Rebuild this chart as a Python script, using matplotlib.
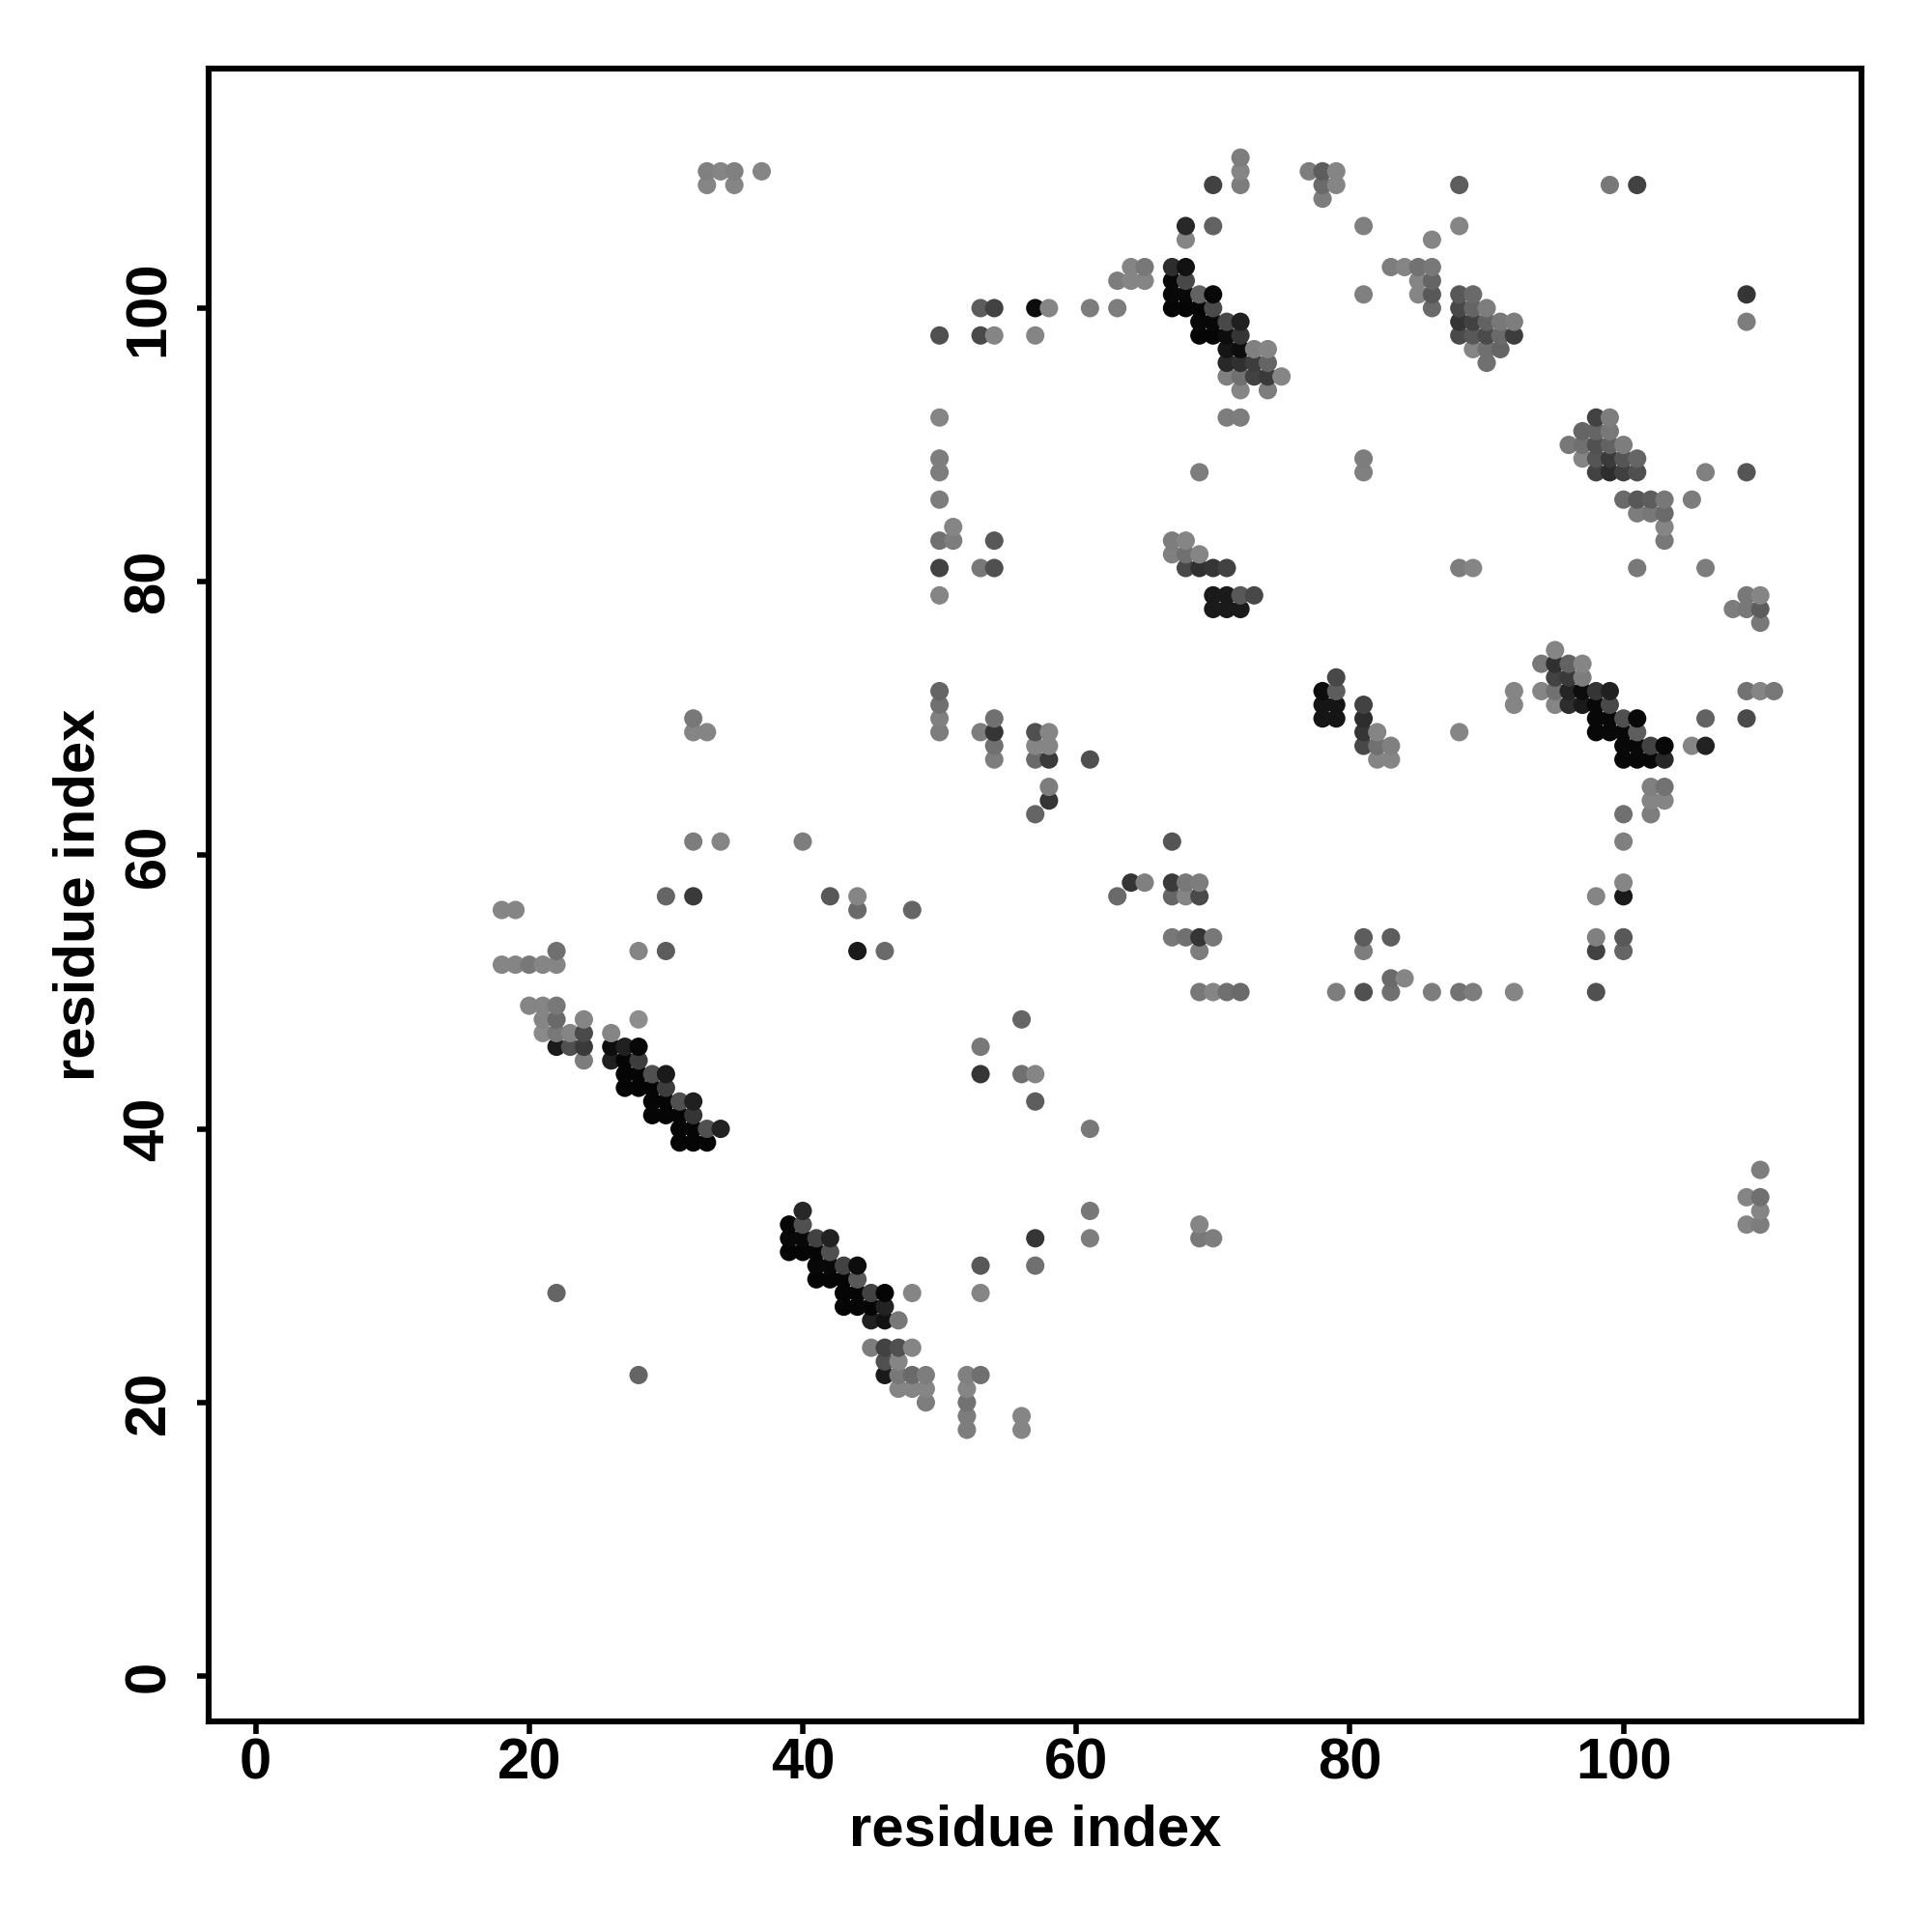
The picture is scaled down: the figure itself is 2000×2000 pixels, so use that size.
import numpy as np
import matplotlib
matplotlib.use("Agg")
import matplotlib.pyplot as plt

plt.rcParams["font.family"] = ["Liberation Sans", "DejaVu Sans"]

# contacts as (residue x, residue y, grey level)
top_left = [
    (33, 110, .48), (34, 110, .5), (35, 110, .48), (37, 110, .5), (33, 109, .5), (35, 109, .5),
    (72, 111, .47), (72, 110, .5), (72, 109, .47), (70, 109, .25),
    (77, 110, .47), (78, 110, .35), (79, 110, .5), (78, 109, .4), (79, 109, .5), (78, 108, .47),
    (88, 109, .35), (88, 106, .5), (99, 109, .45), (101, 109, .25),
    (68, 106, .15), (70, 106, .37), (81, 106, .48), (68, 105, .5), (86, 105, .5),
]
strand_67_100 = [
    (64, 103, .5), (65, 103, .45), (63, 102, .47), (64, 102, .5), (65, 102, .5),
    (67, 103, .17), (68, 103, .07), (67, 102, .03), (68, 102, .27),
    (67, 101, .03), (68, 101, .03), (69, 101, .37), (70, 101, .03),
    (67, 100, .02), (68, 100, .02), (69, 100, .02), (70, 100, .28),
    (69, 99, .03), (70, 99, .03), (71, 99, .27), (72, 99, .12),
    (69, 98, .02), (70, 98, .02), (71, 98, .05), (72, 98, .2),
    (71, 97, .08), (72, 97, .05), (73, 97, .48), (74, 97, .5),
    (71, 96, .15), (72, 96, .18), (73, 96, .23), (74, 96, .38),
    (71, 95, .48), (72, 95, .42), (73, 95, .25), (74, 95, .22), (75, 95, .5),
    (72, 94, .5), (74, 94, .47), (71, 92, .47), (72, 92, .47),
]
cluster_88_100 = [
    (83, 103, .47), (84, 103, .5), (85, 103, .43), (86, 103, .45),
    (85, 102, .5), (86, 102, .38), (85, 101, .5), (86, 101, .33), (86, 100, .4), (81, 101, .48),
    (88, 101, .33), (89, 101, .4), (88, 100, .27), (89, 100, .38), (90, 100, .47),
    (88, 99, .2), (89, 99, .25), (90, 99, .37), (91, 99, .45), (92, 99, .47),
    (88, 98, .28), (89, 98, .33), (90, 98, .28), (91, 98, .4), (92, 98, .23),
    (89, 97, .5), (90, 97, .42), (91, 97, .38), (90, 96, .42),
    (109, 101, .2), (109, 99, .47),
]
row_100 = [
    (61, 100, .47), (63, 100, .47), (57, 100, .05), (58, 100, .5), (53, 100, .35), (54, 100, .25),
    (50, 98, .3), (53, 98, .28), (54, 98, .5), (57, 98, .5),
]
cluster_98_90 = [
    (98, 92, .25), (99, 92, .47), (97, 91, .38), (98, 91, .38), (99, 91, .45),
    (96, 90, .45), (97, 90, .42), (98, 90, .3), (99, 90, .37), (100, 90, .47),
    (97, 89, .5), (98, 89, .32), (99, 89, .22), (100, 89, .32), (101, 89, .38),
    (98, 88, .25), (99, 88, .17), (100, 88, .24), (101, 88, .3), (106, 88, .48), (109, 88, .32),
    (100, 86, .4), (101, 86, .33), (102, 86, .35), (103, 86, .45), (105, 86, .47),
    (101, 85, .47), (102, 85, .45), (103, 85, .4), (103, 84, .5), (103, 83, .45),
    (101, 81, .45), (106, 81, .47), (109, 79, .45), (110, 79, .5),
    (108, 78, .47), (109, 78, .45), (110, 78, .35), (110, 77, .45),
]
column_50 = [
    (50, 92, .5), (50, 89, .47), (50, 88, .47), (50, 86, .47), (50, 83, .42), (50, 81, .25), (50, 79, .5),
    (51, 84, .5), (51, 83, .47), (53, 81, .45), (54, 81, .3), (54, 83, .33),
    (69, 88, .47), (81, 89, .47), (81, 88, .48), (88, 81, .47), (89, 81, .5),
]
strand_67_80 = [
    (67, 83, .47), (68, 83, .5), (67, 82, .48), (68, 82, .42), (69, 82, .5),
    (68, 81, .27), (69, 81, .18), (70, 81, .2), (71, 81, .25),
    (70, 79, .1), (71, 79, .1), (72, 79, .33), (73, 79, .27), (70, 78, .1), (71, 78, .1), (72, 78, .1),
]
strand_95_70 = [
    (95, 75, .5), (94, 74, .45), (95, 74, .18), (96, 74, .37), (97, 74, .5),
    (95, 73, .25), (96, 73, .22), (97, 73, .47),
    (92, 72, .5), (94, 72, .5), (95, 72, .42), (96, 72, .14), (97, 72, .05), (98, 72, .2), (99, 72, .12),
    (109, 72, .43), (110, 72, .5), (111, 72, .45),
    (92, 71, .5), (95, 71, .5), (96, 71, .17), (97, 71, .1), (98, 71, .03), (99, 71, .27),
    (98, 70, .03), (99, 70, .03), (100, 70, .3), (101, 70, .03), (106, 70, .37), (109, 70, .28),
    (98, 69, .03), (99, 69, .03), (100, 69, .03), (101, 69, .35),
    (100, 68, .03), (101, 68, .03), (102, 68, .25), (103, 68, .03), (105, 68, .5), (106, 68, .13),
    (100, 67, .03), (101, 67, .03), (102, 67, .03), (103, 67, .15),
    (102, 65, .48), (103, 65, .43), (102, 64, .5), (103, 64, .5), (100, 63, .42), (102, 63, .47), (100, 61, .48),
]
strand_78_70 = [
    (79, 73, .27), (78, 72, .05), (79, 72, .35), (78, 71, .08), (79, 71, .08), (78, 70, .08), (79, 70, .08),
    (81, 71, .25), (81, 70, .17), (81, 69, .2), (82, 69, .5), (81, 68, .27), (82, 68, .42), (83, 68, .48),
    (82, 67, .5), (83, 67, .5), (88, 69, .5),
]
block_50_65 = [
    (50, 72, .38), (50, 71, .42), (50, 70, .48), (50, 69, .47),
    (54, 70, .42), (53, 69, .47), (54, 69, .2), (54, 68, .42), (54, 67, .47),
    (57, 69, .3), (58, 69, .5), (57, 68, .5), (58, 68, .5), (57, 67, .4), (58, 67, .22), (61, 67, .3),
    (58, 65, .47), (58, 64, .2), (57, 63, .38),
    (32, 70, .45), (32, 69, .5), (33, 69, .5), (32, 61, .47), (34, 61, .5), (40, 61, .47),
]
block_50_61 = [
    (67, 61, .32), (64, 58, .2), (65, 58, .48), (63, 57, .4),
    (67, 58, .22), (68, 58, .45), (69, 58, .47), (67, 57, .38), (68, 57, .5), (69, 57, .28),
    (67, 54, .45), (68, 54, .42), (69, 54, .2), (70, 54, .45), (69, 53, .47),
    (69, 50, .45), (70, 50, .5), (71, 50, .42), (72, 50, .4),
    (79, 50, .47), (81, 50, .3), (83, 50, .42), (83, 51, .4), (84, 51, .5), (86, 50, .47),
    (88, 50, .43), (89, 50, .47), (92, 50, .5), (98, 50, .3),
    (81, 54, .35), (81, 53, .47), (83, 54, .35),
    (98, 57, .5), (100, 58, .5), (100, 57, .1), (98, 54, .48), (98, 53, .25), (100, 54, .33), (100, 53, .38),
]
strand_18_40 = [
    (18, 56, .5), (19, 56, .5), (30, 57, .38), (32, 57, .22), (42, 57, .33), (44, 57, .5), (44, 56, .4), (48, 56, .38),
    (22, 53, .42), (28, 53, .5), (30, 53, .35), (44, 53, .1), (46, 53, .4),
    (18, 52, .5), (19, 52, .5), (20, 52, .45), (21, 52, .5), (22, 52, .5),
    (20, 49, .5), (21, 49, .5), (22, 49, .45),
    (21, 48, .5), (22, 48, .4), (24, 48, .5), (28, 48, .53),
    (21, 47, .52), (22, 47, .45), (23, 47, .5), (24, 47, .28), (26, 47, .5),
    (22, 46, .1), (23, 46, .3), (24, 46, .22), (26, 46, .05), (27, 46, .12), (28, 46, .03),
    (24, 45, .47), (26, 45, .12), (27, 45, .02), (28, 45, .23),
    (27, 44, .02), (28, 44, .02), (29, 44, .3), (30, 44, .1),
    (27, 43, .02), (28, 43, .02), (29, 43, .02), (30, 43, .23),
    (29, 42, .02), (30, 42, .02), (31, 42, .3), (32, 42, .12),
    (29, 41, .02), (30, 41, .02), (31, 41, .02), (32, 41, .2),
    (31, 40, .02), (32, 40, .02), (33, 40, .3), (34, 40, .13),
    (31, 39, .02), (32, 39, .02), (33, 39, .02),
]
strand_39_22 = [
    (40, 34, .15), (39, 33, .02), (40, 33, .3),
    (39, 32, .03), (40, 32, .03), (41, 32, .25), (42, 32, .13), (57, 32, .2),
    (39, 31, .02), (40, 31, .02), (41, 31, .02), (42, 31, .3),
    (41, 30, .03), (42, 30, .03), (43, 30, .25), (44, 30, .05), (53, 30, .33), (57, 30, .42),
    (41, 29, .02), (42, 29, .02), (43, 29, .02), (44, 29, .33),
    (43, 28, .02), (44, 28, .02), (45, 28, .25), (46, 28, .02), (48, 28, .5), (53, 28, .5),
    (43, 27, .02), (44, 27, .02), (45, 27, .02), (46, 27, .13),
    (45, 26, .12), (46, 26, .07), (47, 26, .45),
    (45, 24, .47), (46, 24, .25), (47, 24, .3), (48, 24, .5),
    (46, 23, .3), (47, 23, .5),
    (46, 22, .1), (47, 22, .45), (48, 22, .4), (49, 22, .47), (52, 22, .48), (53, 22, .42),
    (47, 21, .5), (48, 21, .5), (49, 21, .5), (52, 21, .5),
    (49, 20, .47), (52, 20, .43), (52, 19, .47), (56, 19, .5), (52, 18, .47), (56, 18, .5),
]
scattered = [
    (53, 46, .45), (53, 44, .2), (56, 48, .38), (56, 44, .42), (57, 44, .5), (57, 42, .35), (61, 40, .45),
    (61, 34, .45), (61, 32, .47), (69, 33, .5), (69, 32, .45), (70, 32, .47),
    (110, 37, .47), (109, 35, .5), (110, 35, .42), (110, 34, .5), (109, 33, .5), (110, 33, .47),
    (22, 28, .38), (28, 22, .38),
]

tick_values = [0, 20, 40, 60, 80, 100]

contacts = np.array(
    top_left + strand_67_100 + cluster_88_100 + row_100 + cluster_98_90 + column_50
    + strand_67_80 + strand_95_70 + strand_78_70 + block_50_65 + block_50_61
    + strand_18_40 + strand_39_22 + scattered
)
# later residues get painted over earlier ones
contacts = contacts[np.lexsort((contacts[:, 1], contacts[:, 0]))]

fig = plt.figure(figsize=(10, 10), dpi=200)
ax = fig.add_axes([216 / 2000, 1 - 1782 / 2000, (1927 - 216) / 2000, (1782 - 71) / 2000])

ax.scatter(contacts[:, 0], contacts[:, 1], s=47, c=contacts[:, 2], cmap="gray",
           vmin=0, vmax=0.96, linewidths=0, clip_on=False)

ax.set_xlim(-3.43, 117.40)
ax.set_ylim(-3.32, 117.51)
ax.set_xticks(tick_values)
ax.set_yticks(tick_values)
ax.tick_params(axis="both", length=4.5, width=2, labelsize=21.5)
ax.tick_params(axis="x", pad=1.3)
ax.tick_params(axis="y", pad=7.7)
for lab in ax.get_xticklabels() + ax.get_yticklabels():
    lab.set_fontweight("bold")
for lab in ax.get_yticklabels():
    lab.set_rotation(90)
    lab.set_va("center")
for side in ax.spines.values():
    side.set_linewidth(2.2)

ax.set_xlabel("residue index", fontsize=21.5, fontweight="bold", labelpad=5.2)
ax.set_ylabel("residue index", fontsize=21.5, fontweight="bold", labelpad=6.5)

fig.savefig("out.png", dpi=200)
